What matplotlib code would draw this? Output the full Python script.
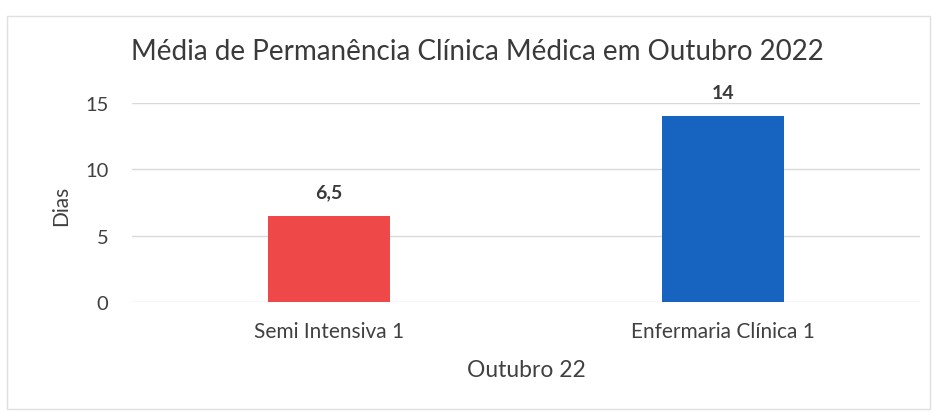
import matplotlib
matplotlib.use("Agg")
import matplotlib.pyplot as plt
from matplotlib.patches import Rectangle

categories = ["Semi Intensiva 1", "Enfermaria Clínica 1"]
values = [6.5, 14]
value_labels = ["6,5", "14"]
colors = ["#EF4848", "#1664C0"]
yticks = [0, 5, 10, 15]

plt.rcParams['font.family'] = ['Lato', 'DejaVu Sans']

fig = plt.figure(figsize=(9.36, 4.14), dpi=100)
ax = fig.add_axes([0.141, 0.268, 0.842, 0.481])

x = list(range(len(categories)))
ax.bar(x, values, width=0.31, color=colors, zorder=3)
for xi, v, lab in zip(x, values, value_labels):
    ax.text(xi, v + 1.8, lab, ha='center', va='center', fontsize=14,
            fontweight='bold', color='#3A3A3A')

ax.set_xlim(-0.5, 1.5)
ax.set_ylim(0, 15)
ax.set_yticks(yticks)
ax.set_xticks(x)
ax.set_xticklabels(categories, fontsize=15, color='#404040')
ax.tick_params(axis='y', labelsize=14.5, colors='#404040', length=0, pad=17)
ax.tick_params(axis='x', length=0, pad=14)
ax.grid(axis='y', color='#D9D9D9', linewidth=1, zorder=0)
for s in ax.spines.values():
    s.set_visible(False)

ax.set_ylabel("Dias", fontsize=15, color='#404040', va='center')
ax.yaxis.set_label_coords(-0.090, 0.49)
ax.set_xlabel("Outubro 22", fontsize=16.5, color='#404040', va='center')
ax.xaxis.set_label_coords(0.5, -0.337)
fig.text(0.51, 0.874, "Média de Permanência Clínica Médica em Outubro 2022",
         ha='center', va='center', fontsize=20, color='#3A3A3A')

# light frame around the chart area
fig.patches.append(Rectangle((0.008, 0.01), 0.986, 0.95, transform=fig.transFigure,
                             fill=False, edgecolor='#E0E0E0', linewidth=1))

fig.savefig("out.png", dpi=100)
